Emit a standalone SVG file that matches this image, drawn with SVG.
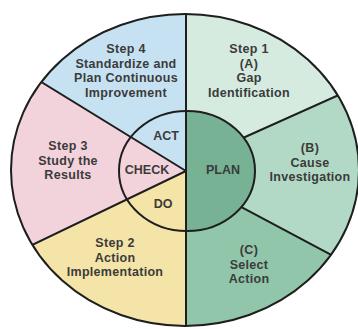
<svg xmlns="http://www.w3.org/2000/svg" width="358" height="329" viewBox="0 0 358 329">
<style>
.lbl{font-family:"Liberation Sans",Arial,sans-serif;font-weight:700;font-size:12.5px;letter-spacing:0.3px;fill:#3b3b3b;text-anchor:middle}
.core{letter-spacing:0}
.ln{stroke:#1e1e1e;stroke-width:2;fill:none;stroke-linecap:round}
</style>
<defs>
<clipPath id="outer"><ellipse cx="185" cy="170" rx="174" ry="156"/></clipPath>
<clipPath id="inner"><ellipse cx="187" cy="171" rx="68" ry="60"/></clipPath>
</defs>
<rect width="358" height="329" fill="#ffffff"/>
<g id="regions" clip-path="url(#outer)">
<polygon id="step4-fill" points="186,171 0,56.6 0,0 186,0" fill="#c6e2f2"/>
<polygon id="step3-fill" points="186,171 0,56.6 0,260.4" fill="#f2d3dc"/>
<polygon id="step2-fill" points="186,171 0,260.4 0,329 186,329" fill="#f5e4a8"/>
<polygon id="step1a-fill" points="186,0 358,0 358,86.4 186,163.4" fill="#d5ebe0"/>
<polygon id="step1b-fill" points="186,163.4 358,86.4 358,269.3 186,177.5" fill="#b2d9c6"/>
<polygon id="step1c-fill" points="186,177.5 358,269.3 358,329 186,329" fill="#92c6aa"/>
</g>
<g id="connectors" clip-path="url(#outer)">
<line class="ln" x1="225" y1="146" x2="360" y2="85.5"/>
<line class="ln" x1="225" y1="198.3" x2="360" y2="270.3"/>
</g>
<g id="plan-core">
<rect x="186" y="111" width="70" height="120" fill="#76b293" clip-path="url(#inner)"/>
</g>
<g id="dividers" clip-path="url(#outer)">
<line class="ln" x1="186" y1="171" x2="0" y2="56.6"/>
<line class="ln" x1="186" y1="171" x2="0" y2="260.4"/>
<line class="ln" x1="186" y1="0" x2="186" y2="329"/>
</g>
<g id="rings">
<ellipse class="ln" cx="187" cy="171" rx="68" ry="60"/>
<ellipse class="ln" cx="185" cy="170" rx="174" ry="156" stroke-width="2.2"/>
</g>
<g id="step4">
<text class="lbl" x="126" y="53">Step 4</text>
<text class="lbl" x="126" y="67.5">Standardize and</text>
<text class="lbl" x="126" y="82">Plan Continuous</text>
<text class="lbl" x="126" y="96.5">Improvement</text>
</g>
<g id="step1a">
<text class="lbl" x="249" y="53">Step 1</text>
<text class="lbl" x="249" y="67.5">(A)</text>
<text class="lbl" x="249" y="82">Gap</text>
<text class="lbl" x="249" y="96.5">Identification</text>
</g>
<g id="step3">
<text class="lbl" x="68" y="150">Step 3</text>
<text class="lbl" x="68" y="164.5">Study the</text>
<text class="lbl" x="68" y="179">Results</text>
</g>
<g id="step1b">
<text class="lbl" x="310" y="152">(B)</text>
<text class="lbl" x="310" y="166.5">Cause</text>
<text class="lbl" x="310" y="181">Investigation</text>
</g>
<g id="step2">
<text class="lbl" x="115" y="247">Step 2</text>
<text class="lbl" x="115" y="261.5">Action</text>
<text class="lbl" x="115" y="276">Implementation</text>
</g>
<g id="step1c">
<text class="lbl" x="249" y="254">(C)</text>
<text class="lbl" x="249" y="268.5">Select</text>
<text class="lbl" x="249" y="283">Action</text>
</g>
<g id="act"><text class="lbl core" x="166" y="140">ACT</text></g>
<g id="check"><text class="lbl core" x="147" y="174">CHECK</text></g>
<g id="do"><text class="lbl core" x="163" y="208">DO</text></g>
<g id="plan"><text class="lbl core" x="223" y="174">PLAN</text></g>
</svg>
